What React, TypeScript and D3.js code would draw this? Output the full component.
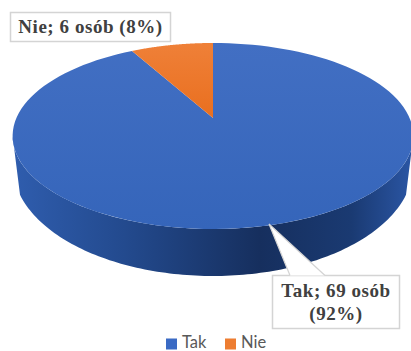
import React from "react";
import * as d3 from "d3";

const categories = ["Tak", "Nie"];
const counts = [69, 6];
const percents = [92, 8];
const colors = ["#3f6cc0", "#ed7d31"];

const WIDTH = 411;
const HEIGHT = 351;
const SERIF = '"Liberation Serif", serif';
const SANS = 'Lato, "Open Sans", sans-serif';

// Tilted disc: the unit circle is sent through a perspective mapping so the
// near half of the pie reads larger than the far half.
const cx = 213;
const hubY = 118;
const spreadX = 196.6;
const persp = 0.1935;
const slopeY = -66.68;

type Pt = [number, number];

function topPoint(theta: number, r = 1): Pt {
  const u = r * Math.sin(theta);
  const v = r * Math.cos(theta);
  const w = persp * v + 1;
  return [cx + (spreadX * u) / w, (slopeY * v + hubY) / w];
}

// Lower rim of the disc, seen through the same tilt.
function rimPoint(theta: number): Pt {
  return [cx + 200 * Math.sin(theta), 166 - 110 * Math.cos(theta)];
}

const pie = d3.pie<number>().sort(null);
const arcs = pie(counts);
const line = d3.line<Pt>();

function samples(a0: number, a1: number, fn: (t: number) => Pt): Pt[] {
  return d3.range(0, 121).map((i) => fn(a0 + ((a1 - a0) * i) / 120));
}

function slicePath(a0: number, a1: number): string {
  return line([topPoint(0, 0), ...samples(a0, a1, (t) => topPoint(t))])! + "Z";
}

// Visible wall: upper face edge between its widest points, then the rim back.
function sidePath(): string {
  const widest = Math.acos(-persp);
  const upper = samples(widest, 2 * Math.PI - widest, (t) => topPoint(t));
  const rimStart = Math.PI - Math.asin(0.965);
  const lower = samples(rimStart, 2 * Math.PI - rimStart, rimPoint).reverse();
  return line([...upper, ...lower])! + "Z";
}

const legendX = d3.scaleOrdinal<string, number>().domain(categories).range([166, 225]);

type Callout = {
  lines: string[];
  x: number;
  y: number;
  w: number;
  h: number;
  baseline: number;
  pointer?: Pt[];
};

const callouts: Callout[] = [
  {
    lines: [`${categories[1]}; ${counts[1]} osób (${percents[1]}%)`],
    x: 10.5,
    y: 12.5,
    w: 160,
    h: 29,
    baseline: 33,
  },
  {
    lines: [`${categories[0]}; ${counts[0]} osób`, `(${percents[0]}%)`],
    x: 272.5,
    y: 275.5,
    w: 127,
    h: 53,
    baseline: 297,
    pointer: [
      [290, 275.5],
      [269, 224],
      [325, 275.5],
    ],
  },
];

export default function App() {
  return (
    <svg
      width={WIDTH}
      height={HEIGHT}
      viewBox={`0 0 ${WIDTH} ${HEIGHT}`}
      style={{ position: "absolute", left: 0, top: 0, background: "#fff" }}
    >
      <defs>
        <linearGradient id="side" gradientUnits="userSpaceOnUse" x1={13} x2={411} y1={0} y2={0}>
          <stop offset="0" stopColor="#2f5dae" />
          <stop offset="0.28" stopColor="#234a8e" />
          <stop offset="0.62" stopColor="#162f5e" />
          <stop offset="0.85" stopColor="#1a3a72" />
          <stop offset="1" stopColor="#2a55a3" />
        </linearGradient>
        <linearGradient id="face" gradientUnits="userSpaceOnUse" x1={0} x2={0} y1={43} y2={229}>
          <stop offset="0" stopColor="#426fc3" />
          <stop offset="1" stopColor="#3565ba" />
        </linearGradient>
        <linearGradient id="wedge" gradientUnits="userSpaceOnUse" x1={0} x2={0} y1={43} y2={118}>
          <stop offset="0" stopColor="#ef8038" />
          <stop offset="1" stopColor="#e96f1f" />
        </linearGradient>
      </defs>

      <path d={sidePath()} fill="url(#side)" />
      {arcs.map((a, i) => (
        <path
          key={categories[i]}
          d={slicePath(a.startAngle, a.endAngle)}
          fill={i === 0 ? "url(#face)" : "url(#wedge)"}
        />
      ))}

      {callouts.map((c) => (
        <g key={c.lines[0]}>
          <rect x={c.x} y={c.y} width={c.w} height={c.h} fill="#fff" stroke="#d4d4d4" strokeWidth={1.5} />
          {c.pointer && (
            <>
              <path d={line(c.pointer)! + "Z"} fill="#fff" stroke="none" />
              <path d={line(c.pointer)!} fill="none" stroke="#d4d4d4" strokeWidth={1.2} />
            </>
          )}
          {c.lines.map((t, i) => (
            <text
              key={t}
              x={c.x + c.w / 2}
              y={c.baseline + i * 23}
              textAnchor="middle"
              fontFamily={SERIF}
              fontWeight="bold"
              fontSize={19}
              letterSpacing={0.55}
              fill="#404040"
            >
              {t}
            </text>
          ))}
        </g>
      ))}

      {categories.map((name, i) => (
        <g key={name}>
          <rect x={legendX(name)} y={338.5} width={11} height={11} fill={i === 0 ? "#3a6ac4" : colors[1]} />
          <text x={legendX(name) + 16} y={347.5} fontFamily={SANS} fontSize={16.5} fill="#595959">
            {name}
          </text>
        </g>
      ))}
    </svg>
  );
}
